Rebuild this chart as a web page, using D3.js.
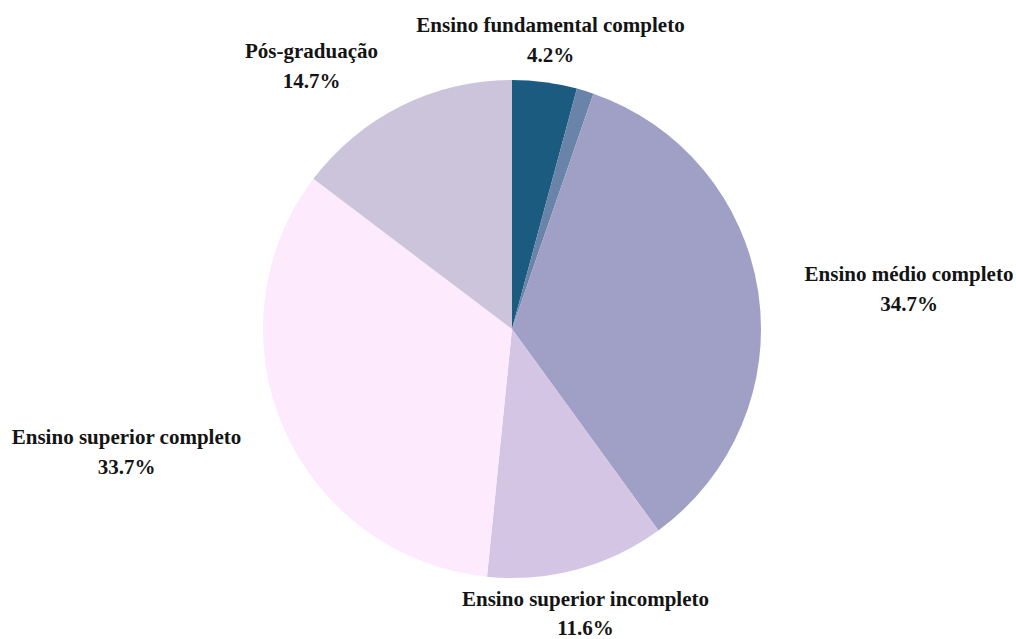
<!DOCTYPE html>
<html>
<head>
<meta charset="utf-8">
<script src="https://cdn.jsdelivr.net/npm/d3@7"></script>
<style>
  html, body { margin: 0; padding: 0; background: #ffffff; }
  svg { display: block; }
  .lbl { font-family: "Liberation Serif", "Times New Roman", serif; font-weight: bold; font-size: 21px; fill: #141414; }
</style>
</head>
<body>
<svg id="chart" width="1016" height="639"></svg>
<script>
// Education level shares (%), clockwise from 12 o'clock
const categories = [
  "Ensino fundamental completo",
  "Ensino médio incompleto",
  "Ensino médio completo",
  "Ensino superior incompleto",
  "Ensino superior completo",
  "Pós-graduação"
];
const shares = [4.2, 1.1, 34.7, 11.6, 33.7, 14.7];
const showLabel = [true, false, true, true, true, true];
const colors = ["#1c5b80", "#6983a9", "#a0a0c6", "#d4c5e4", "#fdeafd", "#cbc4db"];

const width = 1016, height = 639;
const cx = 512, cy = 329, radius = 249;

// Label anchor offsets from the pie centre (first-line baseline, centred text)
const labelLayout = {
  "Ensino fundamental completo": [38.5, -297, 29.5],
  "Ensino médio completo": [397, -48, 29.5],
  "Ensino superior incompleto": [73.5, 277, 28.5],
  "Ensino superior completo": [-385.5, 115, 29.5],
  "Pós-graduação": [-200.5, -271, 29.5]
};

const svg = d3.select("#chart");
const g = svg.append("g").attr("transform", `translate(${cx},${cy})`);

const data = categories.map((c, i) => ({ name: c, value: shares[i], color: colors[i], show: showLabel[i] }));

const pie = d3.pie().sort(null).value(d => d.value);
const arc = d3.arc().innerRadius(0).outerRadius(radius);
const arcs = pie(data);

g.selectAll("path.slice")
  .data(arcs)
  .join("path")
  .attr("class", "slice")
  .attr("d", arc)
  .attr("fill", d => d.data.color);

const fmt = d3.format(".1f");
const labels = g.selectAll("text.lbl")
  .data(arcs.filter(d => d.data.show))
  .join("text")
  .attr("class", "lbl")
  .attr("text-anchor", "middle")
  .attr("transform", d => {
    const p = labelLayout[d.data.name];
    return `translate(${p[0]},${p[1]})`;
  });

labels.append("tspan").attr("x", 0).attr("y", 0).text(d => d.data.name);
labels.append("tspan").attr("x", 0).attr("y", d => labelLayout[d.data.name][2]).text(d => fmt(d.data.value) + "%");
</script>
</body>
</html>
